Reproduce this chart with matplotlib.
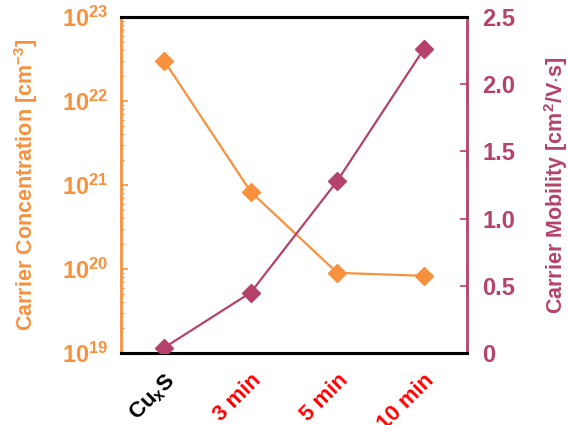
import numpy as np
import matplotlib
matplotlib.use("Agg")
import matplotlib.pyplot as plt
from matplotlib.ticker import FixedLocator, FuncFormatter, LogLocator, NullFormatter

plt.rcParams['font.family'] = ['Liberation Sans', 'DejaVu Sans']
plt.rcParams['mathtext.fontset'] = 'custom'
plt.rcParams['mathtext.rm'] = 'Liberation Sans:bold'
plt.rcParams['mathtext.bf'] = 'Liberation Sans:bold'
plt.rcParams['mathtext.it'] = 'Liberation Sans:bold'

# data
samples = ['Cu$_x$S', '3 min', '5 min', '10 min']
label_colors = ['black', 'red', 'red', 'red']
concentration = [3.0e22, 8.3e20, 9.0e19, 8.3e19]   # cm^-3
mobility = [0.04, 0.45, 1.28, 2.26]                 # cm^2/V.s
mob_ticks = [0, 0.5, 1.0, 1.5, 2.0, 2.5]
mob_labels = ['0', '0.5', '1.0', '1.5', '2.0', '2.5']

orange = '#F7913D'
crimson = '#B5426C'

fig = plt.figure(figsize=(5.69, 4.25), dpi=100)
ax = fig.add_axes([0.2127, 0.1694, 0.608, 0.7906])
ax2 = ax.twinx()

x = np.arange(len(samples))
ax.plot(x, concentration, color=orange, marker='D', ms=9, lw=1.6, zorder=3)
ax2.plot(x, mobility, color=crimson, marker='D', ms=9, lw=1.6, zorder=3)

ax.set_yscale('log')
ax.set_ylim(1e19, 1e23)
ax.set_xlim(-0.5, 3.5)
ax.yaxis.set_major_locator(FixedLocator([1e19, 1e20, 1e21, 1e22, 1e23]))
ax.yaxis.set_major_formatter(FuncFormatter(lambda v, p: r'$10^{%d}$' % round(np.log10(v))))
ax.yaxis.set_minor_locator(LogLocator(base=10, subs=np.arange(2, 10), numticks=20))
ax.yaxis.set_minor_formatter(NullFormatter())

ax2.set_ylim(0, 2.5)
ax2.set_yticks(mob_ticks)
ax2.set_yticklabels(mob_labels)

for a in (ax, ax2):
    a.spines['top'].set_color('black')
    a.spines['bottom'].set_color('black')
    a.spines['top'].set_linewidth(2.2)
    a.spines['bottom'].set_linewidth(2.2)
ax.spines['left'].set_color(orange)
ax.spines['left'].set_linewidth(2)
ax2.spines['right'].set_color(crimson)
ax2.spines['right'].set_linewidth(2)
ax2.spines['left'].set_visible(False)
ax.spines['right'].set_visible(False)

ax.tick_params(axis='y', which='major', direction='in', length=5, width=1.2, color=orange,
               labelcolor=orange, labelsize=17, pad=9)
ax.tick_params(axis='y', which='minor', direction='in', length=2.5, width=0.8, color=orange)
ax2.tick_params(axis='y', direction='in', length=5, width=1.2, color=crimson,
                labelcolor=crimson, labelsize=17, pad=11)
for lab in ax2.get_yticklabels():
    lab.set_fontweight('bold')

ax.set_xticks(x)
ax.set_xticklabels(samples, rotation=45, ha='right', rotation_mode='anchor',
                   fontsize=16, fontweight='bold')
for lab, c in zip(ax.get_xticklabels(), label_colors):
    lab.set_color(c)
ax.tick_params(axis='x', length=0, pad=12)

ax.set_ylabel('Carrier Concentration [cm$^{-3}$]', color=orange, fontsize=15.5,
              fontweight='bold', labelpad=16)
ax2.set_ylabel('Carrier Mobility [cm$^{2}$/V$\\cdot$s]', color=crimson, fontsize=15.5,
               fontweight='bold', rotation=90, labelpad=19)

fig.savefig('out.png', dpi=100)
